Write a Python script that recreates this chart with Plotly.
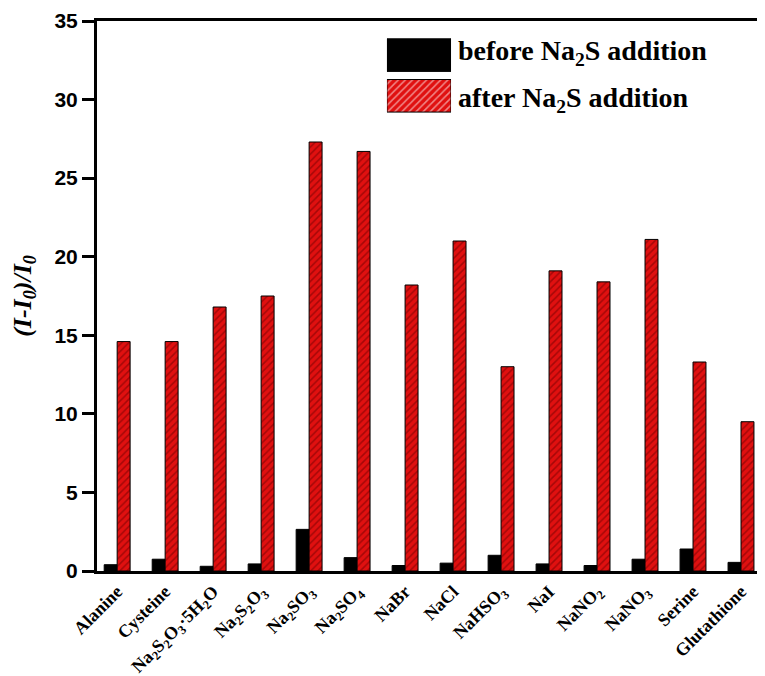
import plotly.graph_objects as go

categories = ["Alanine", "Cysteine", "Na<sub>2</sub>S<sub>2</sub>O<sub>3</sub>·5H<sub>2</sub>O",
              "Na<sub>2</sub>S<sub>2</sub>O<sub>3</sub>", "Na<sub>2</sub>SO<sub>3</sub>", "Na<sub>2</sub>SO<sub>4</sub>",
              "NaBr", "NaCl", "NaHSO<sub>3</sub>", "NaI", "NaNO<sub>2</sub>", "NaNO<sub>3</sub>",
              "Serine", "Glutathione"]
before_vals = [0.4, 0.75, 0.3, 0.45, 2.65, 0.85, 0.35, 0.5, 1.0, 0.45, 0.35, 0.75, 1.4, 0.55]
after_vals = [14.6, 14.6, 16.8, 17.5, 27.3, 26.7, 18.2, 21.0, 13.0, 19.1, 18.4, 21.1, 13.3, 9.5]
legend_labels = ["before Na<sub>2</sub>S addition", "after Na<sub>2</sub>S addition"]
y_ticks = [0, 5, 10, 15, 20, 25, 30, 35]

RED = "#e01010"
HATCH = "#6a0000"
serif = "Liberation Serif, Times New Roman, serif"
sans = "Liberation Sans, Arial, sans-serif"

fig = go.Figure()
fig.add_trace(go.Bar(x=categories, y=before_vals, name=legend_labels[0],
                     marker=dict(color="black", line=dict(color="black", width=1)),
                     showlegend=False))
fig.add_trace(go.Bar(x=categories, y=after_vals, name=legend_labels[1],
                     marker=dict(color=RED, line=dict(color="black", width=1),
                                 pattern=dict(shape="/", fgcolor=HATCH, size=5, solidity=0.3)),
                     showlegend=False))

# custom legend swatches on an inset axis
fig.add_trace(go.Bar(x=[1, 1], y=["b", "a"], orientation="h", xaxis="x2", yaxis="y2",
                     width=0.8,
                     marker=dict(color=["black", RED], line=dict(color="black", width=1),
                                 pattern=dict(shape=["", "/"], fgcolor=HATCH, size=5, solidity=0.3)),
                     showlegend=False, hoverinfo="skip"))

fig.update_layout(
    width=757, height=668,
    margin=dict(l=89, r=0, t=13, b=105),
    plot_bgcolor="white", paper_bgcolor="white",
    barmode="group", bargap=0.46, bargroupgap=0,
    xaxis=dict(range=[-0.42, 13.5], showline=True, linecolor="black", linewidth=3,
               mirror=True, ticks="", tickangle=-45, automargin=False,
               tickfont=dict(family=serif, size=18, color="black", weight="bold"),
               showgrid=False),
    yaxis=dict(range=[0, 35], tickvals=y_ticks, showline=True, linecolor="black", linewidth=3,
               ticks="outside", ticklen=12, tickwidth=3, tickcolor="black", automargin=False,
               tickfont=dict(family=sans, size=21, color="black", weight="bold"),
               showgrid=False, zeroline=False,
               title=dict(text="<i>(I-I<sub>0</sub>)/I<sub>0</sub></i>",
                          font=dict(family=serif, size=26, color="black", weight="bold"),
                          standoff=16)),
    xaxis2=dict(domain=[0.434, 0.530], range=[0, 1], visible=False, fixedrange=True),
    yaxis2=dict(domain=[0.827, 0.975], visible=False, fixedrange=True,
                categoryorder="array", categoryarray=["a", "b"]),
)
fig.update_layout(yaxis2_anchor="x2", xaxis2_anchor="y2")

for lbl, yp in zip(legend_labels, [0.943, 0.857]):
    fig.add_annotation(text=lbl, xref="paper", yref="paper", x=0.538, y=yp,
                       xanchor="left", yanchor="middle", showarrow=False,
                       font=dict(family=serif, size=28, color="black", weight="bold"))

fig.write_html("out.html")
